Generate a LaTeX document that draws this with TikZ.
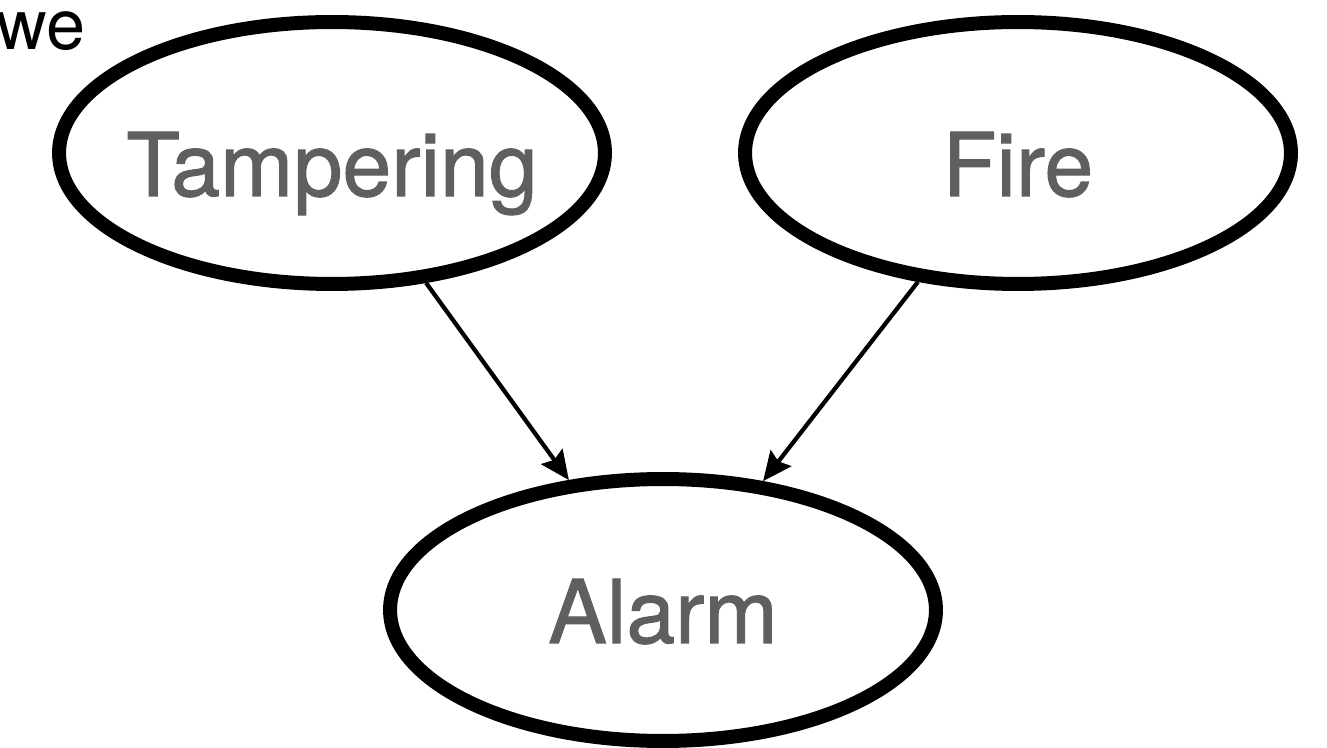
\documentclass[tikz,border=0pt]{standalone}
\usepackage{fontspec}
\setmainfont{TeX Gyre Heros}
\newfontfamily\labelfont[FakeBold=1.2]{TeX Gyre Heros}
\usetikzlibrary{shapes.geometric,arrows.meta}

\definecolor{labelgrey}{HTML}{5F5F5F}

\begin{document}
\begin{tikzpicture}[x=0.02cm,y=0.02cm,
    var/.style={ellipse, draw, line width=0.28cm, minimum width=10.92cm, minimum height=5.24cm,
        inner xsep=-0.5cm, inner ysep=0pt, text depth=0pt, text=labelgrey,
        font=\labelfont\fontsize{50}{50}\selectfont},
    cause/.style={-{Stealth[length=0.58cm,width=0.52cm,inset=0.08cm]}, line width=0.085cm}]

    \def \topy {594}
    \def \boty {137}

    \useasboundingbox (0,0) rectangle (1327,747);

    % leftover word from the slide
    \node[anchor=base west, inner sep=0pt, font=\fontsize{40}{40}\selectfont] (we) at (-4,697) {we};

    % the three variables
    \node[var, text height=1.72cm] (tamper) at (332,\topy) {Tampering};
    \node[var, text height=1.72cm] (fire) at (1018,\topy) {Fire};
    \node[var, text height=1.32cm] (alarm) at (663,\boty) {Alarm};

    % both parents point at the alarm
    \draw[cause] (tamper) -- (alarm);
    \draw[cause] (fire) -- (alarm);

\end{tikzpicture}
\end{document}
